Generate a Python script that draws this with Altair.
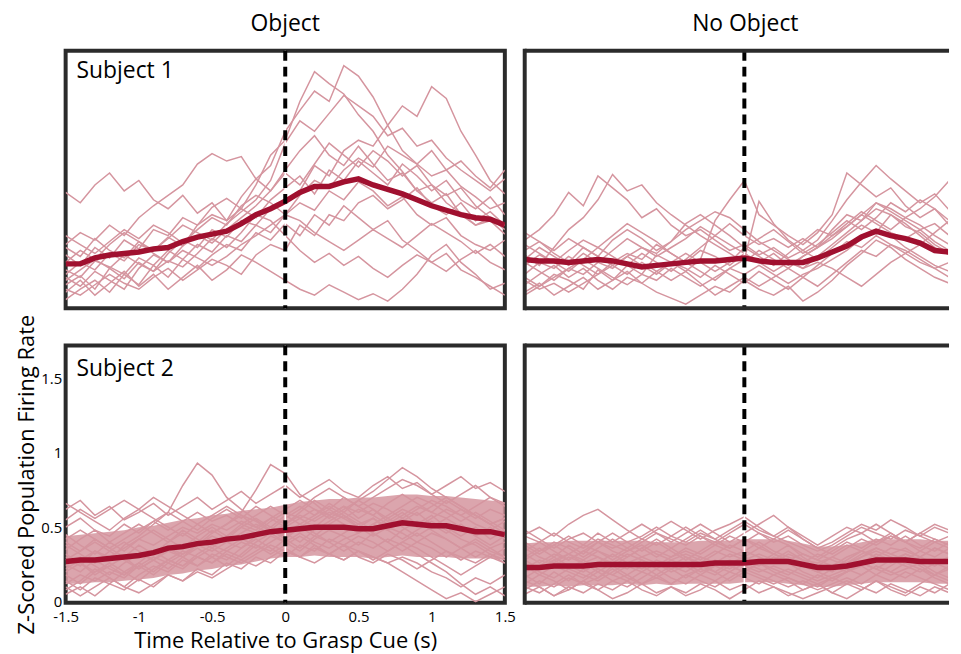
import altair as alt
import pandas as pd

# ---------------- data ----------------
TIME = [-1.5, -1.4, -1.3, -1.2, -1.1, -1.0, -0.9, -0.8, -0.7, -0.6, -0.5,
        -0.4, -0.3, -0.2, -0.1, 0.0, 0.1, 0.2, 0.3, 0.4, 0.5,
        0.6, 0.7, 0.8, 0.9, 1.0, 1.1, 1.2, 1.3, 1.4, 1.5]

COLUMNS = ["Object", "No Object"]
ROWS = ["Subject 1", "Subject 2"]
X_TICKS = [-1.5, -1, -0.5, 0, 0.5, 1, 1.5]
Y_TICKS = [0, 0.5, 1, 1.5]
CUE_TIME = [0]

# Subject 1, Object
S1_OBJ_MEAN = [0.29, 0.29, 0.33, 0.35, 0.36, 0.37, 0.39, 0.40, 0.44, 0.47, 0.49, 0.51, 0.56, 0.62, 0.66, 0.71,
               0.77, 0.81, 0.81, 0.84, 0.86, 0.82, 0.79, 0.76, 0.72, 0.68, 0.65, 0.62, 0.60, 0.59, 0.55]
S1_OBJ_TRIALS = [
    [0.22, 0.30, 0.25, 0.36, 0.31, 0.42, 0.38, 0.47, 0.41, 0.55, 0.62, 0.58, 0.74, 0.86, 0.95, 1.18, 1.32, 1.45, 1.38, 1.62, 1.55, 1.41, 1.22, 1.05, 0.96, 0.88, 0.92, 0.81, 0.74, 0.66, 0.70],
    [0.35, 0.28, 0.40, 0.33, 0.45, 0.39, 0.52, 0.48, 0.60, 0.55, 0.67, 0.73, 0.66, 0.82, 1.02, 1.12, 1.38, 1.58, 1.50, 1.43, 1.29, 1.18, 1.02, 0.91, 0.78, 0.82, 0.70, 0.63, 0.55, 0.58, 0.49],
    [0.15, 0.21, 0.12, 0.26, 0.19, 0.30, 0.24, 0.36, 0.45, 0.40, 0.52, 0.47, 0.58, 0.55, 0.66, 0.71, 0.78, 0.95, 0.88, 1.05, 1.12, 1.08, 1.22, 1.35, 1.28, 1.48, 1.40, 1.18, 1.02, 0.85, 0.76],
    [0.10, 0.18, 0.08, 0.16, 0.24, 0.14, 0.22, 0.12, 0.20, 0.28, 0.18, 0.25, 0.35, 0.30, 0.24, 0.18, 0.12, 0.08, 0.15, 0.10, 0.05, 0.09, 0.04, 0.12, 0.22, 0.35, 0.42, 0.30, 0.22, 0.12, 0.16],
    [0.77, 0.70, 0.82, 0.90, 0.78, 0.85, 0.72, 0.66, 0.75, 0.63, 0.70, 0.58, 0.66, 0.60, 0.72, 0.80, 0.88, 0.76, 0.92, 0.85, 0.98, 0.90, 0.82, 0.96, 0.88, 0.78, 0.85, 0.72, 0.66, 0.74, 0.62],
    [0.42, 0.50, 0.45, 0.55, 0.48, 0.60, 0.68, 0.75, 0.82, 0.96, 1.03, 0.98, 1.01, 0.86, 0.78, 0.92, 1.05, 1.15, 1.02, 0.95, 1.08, 0.96, 0.85, 0.90, 0.78, 0.70, 0.76, 0.62, 0.55, 0.60, 0.52],
    [0.25, 0.20, 0.31, 0.27, 0.22, 0.33, 0.28, 0.38, 0.32, 0.42, 0.37, 0.48, 0.44, 0.55, 0.50, 0.62, 0.70, 0.65, 0.78, 0.72, 0.84, 0.78, 0.68, 0.74, 0.62, 0.55, 0.60, 0.48, 0.42, 0.38, 0.45],
    [0.05, 0.12, 0.18, 0.10, 0.22, 0.15, 0.28, 0.20, 0.32, 0.26, 0.35, 0.42, 0.38, 0.50, 0.45, 0.56, 0.48, 0.62, 0.55, 0.68, 0.60, 0.52, 0.58, 0.45, 0.38, 0.30, 0.36, 0.25, 0.20, 0.14, 0.08],
    [0.40, 0.34, 0.46, 0.38, 0.33, 0.44, 0.36, 0.30, 0.41, 0.48, 0.43, 0.52, 0.60, 0.68, 0.78, 0.90, 0.82, 0.96, 1.10, 1.02, 0.94, 1.05, 0.98, 0.88, 0.95, 0.82, 0.75, 0.80, 0.68, 0.60, 0.55],
    [0.18, 0.25, 0.32, 0.26, 0.35, 0.29, 0.24, 0.31, 0.27, 0.36, 0.46, 0.40, 0.50, 0.62, 0.58, 0.48, 0.38, 0.30, 0.36, 0.28, 0.34, 0.26, 0.20, 0.28, 0.35, 0.30, 0.24, 0.32, 0.38, 0.30, 0.25],
    [0.30, 0.38, 0.32, 0.42, 0.50, 0.44, 0.38, 0.46, 0.55, 0.50, 0.45, 0.56, 0.64, 0.72, 0.85, 1.10, 1.25, 1.18, 1.30, 1.42, 1.35, 1.28, 1.15, 1.20, 1.08, 1.12, 1.00, 0.92, 0.85, 0.78, 0.86],
    [0.12, 0.08, 0.15, 0.22, 0.16, 0.12, 0.20, 0.26, 0.18, 0.25, 0.32, 0.28, 0.22, 0.35, 0.42, 0.38, 0.55, 0.48, 0.62, 0.58, 0.70, 0.75, 0.66, 0.72, 0.80, 0.68, 0.62, 0.70, 0.58, 0.64, 0.55],
    [0.48, 0.42, 0.36, 0.44, 0.52, 0.46, 0.55, 0.50, 0.43, 0.52, 0.60, 0.55, 0.68, 0.75, 0.70, 0.62, 0.75, 0.85, 0.80, 0.92, 1.00, 0.94, 1.08, 1.02, 0.96, 1.05, 0.92, 0.98, 0.88, 0.80, 0.92],
    [0.20, 0.14, 0.24, 0.18, 0.12, 0.26, 0.35, 0.30, 0.38, 0.33, 0.28, 0.34, 0.42, 0.48, 0.55, 0.62, 0.58, 0.50, 0.44, 0.38, 0.45, 0.52, 0.46, 0.40, 0.48, 0.56, 0.50, 0.44, 0.36, 0.42, 0.34],
]

# Subject 1, No Object
S1_NOOBJ_MEAN = [0.32, 0.31, 0.31, 0.30, 0.31, 0.32, 0.31, 0.29, 0.27, 0.28, 0.29, 0.30, 0.31, 0.31, 0.32, 0.33,
                 0.31, 0.30, 0.30, 0.30, 0.33, 0.37, 0.41, 0.47, 0.51, 0.48, 0.46, 0.43, 0.38, 0.37, 0.37]
S1_NOOBJ_TRIALS = [
    [0.45, 0.52, 0.62, 0.77, 0.68, 0.88, 0.80, 0.72, 0.60, 0.66, 0.55, 0.48, 0.52, 0.45, 0.38, 0.42, 0.35, 0.40, 0.33, 0.38, 0.45, 0.58, 0.72, 0.84, 0.95, 0.86, 0.78, 0.70, 0.76, 0.65, 0.58],
    [0.35, 0.28, 0.40, 0.52, 0.60, 0.72, 0.89, 0.78, 0.82, 0.70, 0.62, 0.55, 0.48, 0.42, 0.36, 0.30, 0.38, 0.32, 0.26, 0.34, 0.40, 0.52, 0.62, 0.58, 0.70, 0.66, 0.60, 0.55, 0.48, 0.42, 0.45],
    [0.20, 0.14, 0.22, 0.18, 0.12, 0.25, 0.18, 0.28, 0.22, 0.35, 0.30, 0.24, 0.32, 0.58, 0.72, 0.85, 0.62, 0.55, 0.48, 0.42, 0.50, 0.62, 0.90, 0.82, 0.74, 0.80, 0.68, 0.60, 0.66, 0.55, 0.48],
    [0.28, 0.35, 0.30, 0.24, 0.32, 0.26, 0.20, 0.15, 0.22, 0.18, 0.26, 0.20, 0.14, 0.20, 0.26, 0.32, 0.71, 0.56, 0.45, 0.38, 0.32, 0.40, 0.48, 0.55, 0.50, 0.62, 0.56, 0.48, 0.40, 0.35, 0.30],
    [0.10, 0.16, 0.08, 0.14, 0.20, 0.12, 0.18, 0.24, 0.16, 0.10, 0.06, 0.02, 0.08, 0.14, 0.10, 0.18, 0.12, 0.08, 0.14, 0.04, 0.10, 0.18, 0.28, 0.36, 0.45, 0.40, 0.32, 0.26, 0.20, 0.16, 0.22],
    [0.38, 0.44, 0.36, 0.30, 0.40, 0.34, 0.45, 0.52, 0.46, 0.38, 0.44, 0.56, 0.62, 0.55, 0.48, 0.40, 0.34, 0.28, 0.36, 0.44, 0.52, 0.48, 0.56, 0.64, 0.58, 0.52, 0.60, 0.66, 0.74, 0.85, 0.78],
    [0.22, 0.30, 0.26, 0.34, 0.28, 0.22, 0.30, 0.36, 0.32, 0.42, 0.36, 0.30, 0.38, 0.34, 0.28, 0.36, 0.30, 0.24, 0.30, 0.26, 0.34, 0.42, 0.50, 0.58, 0.66, 0.62, 0.54, 0.50, 0.42, 0.36, 0.40],
    [0.15, 0.22, 0.28, 0.20, 0.26, 0.18, 0.12, 0.20, 0.16, 0.24, 0.30, 0.26, 0.20, 0.28, 0.22, 0.16, 0.24, 0.18, 0.12, 0.20, 0.28, 0.36, 0.44, 0.40, 0.48, 0.42, 0.36, 0.30, 0.26, 0.20, 0.18],
    [0.42, 0.36, 0.30, 0.38, 0.45, 0.40, 0.34, 0.28, 0.36, 0.30, 0.24, 0.32, 0.40, 0.48, 0.42, 0.36, 0.30, 0.36, 0.28, 0.34, 0.40, 0.46, 0.54, 0.62, 0.56, 0.50, 0.46, 0.52, 0.44, 0.38, 0.32],
    [0.08, 0.14, 0.20, 0.26, 0.32, 0.40, 0.48, 0.56, 0.50, 0.44, 0.36, 0.30, 0.24, 0.18, 0.26, 0.22, 0.28, 0.22, 0.16, 0.22, 0.26, 0.32, 0.38, 0.46, 0.52, 0.48, 0.40, 0.34, 0.28, 0.24, 0.18],
    [0.30, 0.24, 0.18, 0.26, 0.22, 0.30, 0.26, 0.34, 0.40, 0.36, 0.44, 0.52, 0.58, 0.64, 0.60, 0.52, 0.44, 0.38, 0.32, 0.26, 0.30, 0.26, 0.20, 0.14, 0.22, 0.30, 0.36, 0.42, 0.50, 0.58, 0.52],
    [0.50, 0.44, 0.38, 0.46, 0.40, 0.34, 0.28, 0.34, 0.28, 0.22, 0.30, 0.36, 0.30, 0.24, 0.30, 0.40, 0.46, 0.52, 0.44, 0.36, 0.42, 0.50, 0.58, 0.52, 0.60, 0.70, 0.64, 0.72, 0.66, 0.58, 0.62],
    [0.18, 0.12, 0.16, 0.10, 0.16, 0.22, 0.28, 0.22, 0.30, 0.24, 0.18, 0.24, 0.16, 0.08, 0.14, 0.20, 0.14, 0.20, 0.26, 0.20, 0.14, 0.22, 0.30, 0.38, 0.34, 0.42, 0.38, 0.32, 0.26, 0.30, 0.24],
    [0.32, 0.40, 0.34, 0.28, 0.36, 0.30, 0.38, 0.46, 0.40, 0.34, 0.40, 0.46, 0.54, 0.48, 0.56, 0.48, 0.42, 0.46, 0.40, 0.46, 0.40, 0.48, 0.54, 0.62, 0.70, 0.64, 0.58, 0.52, 0.56, 0.48, 0.44],
]

# Subject 2, Object
S2_OBJ_MEAN = [0.27, 0.28, 0.28, 0.29, 0.30, 0.31, 0.33, 0.36, 0.37, 0.39, 0.40, 0.42, 0.43, 0.45, 0.47, 0.48,
               0.49, 0.50, 0.50, 0.50, 0.49, 0.49, 0.51, 0.53, 0.52, 0.51, 0.51, 0.49, 0.47, 0.47, 0.45]
# dense core of the overlapping trials
S2_OBJ_CORE_LO = [0.12, 0.12, 0.13, 0.13, 0.14, 0.15, 0.16, 0.18, 0.19, 0.21, 0.22, 0.24, 0.25, 0.27, 0.29, 0.30,
                  0.30, 0.31, 0.30, 0.30, 0.30, 0.29, 0.30, 0.31, 0.30, 0.30, 0.30, 0.29, 0.29, 0.29, 0.28]
S2_OBJ_CORE_HI = [0.44, 0.45, 0.46, 0.47, 0.48, 0.50, 0.51, 0.53, 0.55, 0.56, 0.58, 0.59, 0.61, 0.62, 0.63, 0.65,
                  0.67, 0.68, 0.69, 0.69, 0.70, 0.70, 0.71, 0.72, 0.72, 0.71, 0.71, 0.70, 0.69, 0.68, 0.67]
S2_OBJ_TRIALS = [
    [0.62, 0.68, 0.58, 0.64, 0.55, 0.60, 0.66, 0.58, 0.64, 0.70, 0.62, 0.68, 0.74, 0.66, 0.72, 0.78, 0.70, 0.76, 0.82, 0.74, 0.70, 0.78, 0.84, 0.76, 0.80, 0.72, 0.78, 0.84, 0.76, 0.80, 0.74],
    [0.05, 0.10, 0.04, 0.12, 0.08, 0.15, 0.10, 0.18, 0.14, 0.22, 0.18, 0.26, 0.22, 0.30, 0.26, 0.34, 0.30, 0.38, 0.32, 0.28, 0.34, 0.30, 0.26, 0.20, 0.14, 0.08, 0.02, 0.06, 0.00, 0.05, 0.10],
    [0.30, 0.24, 0.34, 0.28, 0.38, 0.44, 0.52, 0.60, 0.78, 0.93, 0.85, 0.70, 0.62, 0.55, 0.48, 0.42, 0.50, 0.44, 0.52, 0.58, 0.50, 0.56, 0.48, 0.54, 0.60, 0.52, 0.46, 0.52, 0.44, 0.50, 0.42],
    [0.20, 0.26, 0.18, 0.24, 0.30, 0.22, 0.28, 0.36, 0.30, 0.38, 0.46, 0.52, 0.60, 0.75, 0.92, 0.86, 0.72, 0.66, 0.58, 0.64, 0.56, 0.62, 0.54, 0.60, 0.52, 0.58, 0.50, 0.44, 0.50, 0.42, 0.48],
    [0.40, 0.34, 0.42, 0.36, 0.30, 0.38, 0.32, 0.40, 0.46, 0.40, 0.48, 0.42, 0.50, 0.56, 0.50, 0.58, 0.64, 0.58, 0.66, 0.60, 0.68, 0.74, 0.82, 0.90, 0.84, 0.76, 0.70, 0.64, 0.58, 0.52, 0.56],
    [0.12, 0.18, 0.14, 0.20, 0.16, 0.24, 0.18, 0.26, 0.22, 0.30, 0.26, 0.34, 0.30, 0.38, 0.34, 0.42, 0.36, 0.44, 0.40, 0.34, 0.40, 0.36, 0.42, 0.38, 0.32, 0.26, 0.20, 0.12, 0.05, 0.10, 0.04],
    [0.50, 0.56, 0.48, 0.44, 0.52, 0.46, 0.54, 0.60, 0.54, 0.48, 0.56, 0.62, 0.56, 0.64, 0.58, 0.52, 0.60, 0.68, 0.62, 0.70, 0.64, 0.58, 0.66, 0.72, 0.66, 0.60, 0.68, 0.62, 0.56, 0.62, 0.58],
    [0.25, 0.20, 0.28, 0.22, 0.18, 0.26, 0.34, 0.28, 0.24, 0.32, 0.38, 0.34, 0.40, 0.36, 0.44, 0.40, 0.34, 0.42, 0.48, 0.44, 0.38, 0.46, 0.40, 0.48, 0.54, 0.48, 0.42, 0.36, 0.40, 0.34, 0.30],
    [0.35, 0.42, 0.48, 0.40, 0.46, 0.52, 0.46, 0.40, 0.48, 0.42, 0.36, 0.44, 0.50, 0.46, 0.54, 0.60, 0.56, 0.50, 0.58, 0.52, 0.46, 0.52, 0.58, 0.64, 0.70, 0.66, 0.60, 0.54, 0.60, 0.54, 0.48],
    [0.08, 0.14, 0.22, 0.16, 0.10, 0.18, 0.24, 0.20, 0.28, 0.24, 0.32, 0.28, 0.36, 0.42, 0.36, 0.30, 0.38, 0.34, 0.42, 0.38, 0.44, 0.40, 0.34, 0.40, 0.46, 0.40, 0.34, 0.28, 0.34, 0.30, 0.36],
    [0.45, 0.38, 0.32, 0.40, 0.34, 0.42, 0.48, 0.42, 0.36, 0.44, 0.50, 0.44, 0.52, 0.48, 0.56, 0.62, 0.68, 0.62, 0.56, 0.62, 0.68, 0.62, 0.56, 0.62, 0.58, 0.64, 0.70, 0.64, 0.58, 0.52, 0.46],
    [0.18, 0.12, 0.20, 0.26, 0.20, 0.14, 0.22, 0.28, 0.34, 0.30, 0.26, 0.32, 0.28, 0.34, 0.40, 0.46, 0.52, 0.46, 0.40, 0.46, 0.52, 0.46, 0.40, 0.34, 0.40, 0.36, 0.30, 0.36, 0.42, 0.36, 0.30],
    [0.66, 0.60, 0.54, 0.48, 0.56, 0.62, 0.56, 0.50, 0.44, 0.52, 0.46, 0.52, 0.58, 0.54, 0.48, 0.56, 0.62, 0.70, 0.76, 0.70, 0.64, 0.70, 0.76, 0.82, 0.78, 0.72, 0.66, 0.72, 0.78, 0.70, 0.64],
    [0.28, 0.34, 0.40, 0.34, 0.28, 0.22, 0.28, 0.34, 0.30, 0.24, 0.30, 0.36, 0.42, 0.38, 0.32, 0.38, 0.44, 0.38, 0.32, 0.38, 0.34, 0.28, 0.34, 0.40, 0.36, 0.30, 0.24, 0.18, 0.24, 0.30, 0.26],
    [0.22, 0.28, 0.34, 0.30, 0.36, 0.42, 0.38, 0.44, 0.50, 0.46, 0.52, 0.48, 0.54, 0.50, 0.46, 0.52, 0.58, 0.54, 0.60, 0.56, 0.62, 0.58, 0.52, 0.58, 0.64, 0.60, 0.56, 0.62, 0.58, 0.52, 0.56],
    [0.38, 0.32, 0.26, 0.34, 0.40, 0.34, 0.28, 0.36, 0.32, 0.38, 0.34, 0.40, 0.36, 0.44, 0.50, 0.46, 0.40, 0.48, 0.54, 0.60, 0.54, 0.48, 0.56, 0.50, 0.44, 0.50, 0.56, 0.50, 0.44, 0.38, 0.44],
    [0.14, 0.08, 0.16, 0.12, 0.20, 0.26, 0.20, 0.28, 0.24, 0.30, 0.36, 0.30, 0.26, 0.32, 0.38, 0.34, 0.30, 0.36, 0.32, 0.38, 0.30, 0.26, 0.32, 0.28, 0.22, 0.28, 0.34, 0.30, 0.26, 0.32, 0.28],
    [0.55, 0.62, 0.56, 0.62, 0.68, 0.62, 0.70, 0.64, 0.58, 0.52, 0.58, 0.64, 0.58, 0.50, 0.56, 0.50, 0.56, 0.62, 0.58, 0.64, 0.60, 0.66, 0.62, 0.56, 0.62, 0.68, 0.64, 0.58, 0.64, 0.70, 0.66],
    [0.32, 0.26, 0.20, 0.24, 0.18, 0.24, 0.30, 0.26, 0.32, 0.38, 0.44, 0.40, 0.46, 0.52, 0.48, 0.44, 0.50, 0.56, 0.62, 0.56, 0.50, 0.44, 0.50, 0.46, 0.40, 0.46, 0.42, 0.36, 0.30, 0.36, 0.40],
    [0.42, 0.48, 0.42, 0.36, 0.42, 0.48, 0.54, 0.48, 0.54, 0.60, 0.54, 0.58, 0.52, 0.58, 0.64, 0.58, 0.52, 0.58, 0.64, 0.58, 0.52, 0.56, 0.50, 0.56, 0.50, 0.56, 0.62, 0.58, 0.52, 0.48, 0.54],
    [0.24, 0.30, 0.24, 0.18, 0.26, 0.32, 0.28, 0.22, 0.30, 0.36, 0.30, 0.24, 0.32, 0.40, 0.46, 0.40, 0.46, 0.40, 0.36, 0.42, 0.46, 0.52, 0.48, 0.42, 0.48, 0.54, 0.48, 0.42, 0.38, 0.32, 0.26],
    [0.10, 0.04, 0.10, 0.16, 0.10, 0.06, 0.12, 0.18, 0.14, 0.20, 0.16, 0.22, 0.28, 0.24, 0.30, 0.36, 0.30, 0.26, 0.32, 0.28, 0.34, 0.30, 0.26, 0.30, 0.26, 0.20, 0.16, 0.10, 0.16, 0.12, 0.18],
]

# Subject 2, No Object
S2_NOOBJ_MEAN = [0.23, 0.23, 0.24, 0.24, 0.24, 0.25, 0.25, 0.25, 0.25, 0.25, 0.25, 0.25, 0.25, 0.26, 0.26, 0.26,
                 0.27, 0.27, 0.27, 0.25, 0.23, 0.23, 0.24, 0.26, 0.28, 0.28, 0.28, 0.27, 0.27, 0.27, 0.27]
S2_NOOBJ_CORE_LO = [0.10, 0.10, 0.11, 0.10, 0.11, 0.11, 0.11, 0.12, 0.11, 0.12, 0.11, 0.12, 0.12, 0.12, 0.12, 0.13,
                    0.13, 0.13, 0.12, 0.11, 0.10, 0.10, 0.11, 0.12, 0.13, 0.13, 0.13, 0.13, 0.12, 0.12, 0.12]
S2_NOOBJ_CORE_HI = [0.39, 0.40, 0.40, 0.41, 0.41, 0.41, 0.41, 0.41, 0.41, 0.40, 0.40, 0.40, 0.41, 0.41, 0.41, 0.42,
                    0.42, 0.42, 0.41, 0.39, 0.37, 0.37, 0.38, 0.40, 0.42, 0.42, 0.42, 0.42, 0.41, 0.41, 0.41]
S2_NOOBJ_TRIALS = [
    [0.45, 0.50, 0.44, 0.52, 0.58, 0.62, 0.55, 0.48, 0.42, 0.48, 0.54, 0.48, 0.42, 0.48, 0.52, 0.57, 0.50, 0.44, 0.50, 0.42, 0.36, 0.40, 0.46, 0.52, 0.48, 0.55, 0.50, 0.44, 0.50, 0.46, 0.52],
    [0.05, 0.10, 0.04, 0.08, 0.14, 0.08, 0.02, 0.06, 0.12, 0.06, 0.10, 0.04, 0.08, 0.14, 0.08, 0.12, 0.06, 0.10, 0.04, 0.08, 0.12, 0.06, 0.02, 0.08, 0.14, 0.08, 0.04, 0.10, 0.06, 0.12, 0.08],
    [0.30, 0.36, 0.30, 0.38, 0.32, 0.40, 0.46, 0.40, 0.34, 0.40, 0.34, 0.28, 0.34, 0.40, 0.36, 0.42, 0.38, 0.32, 0.38, 0.30, 0.24, 0.30, 0.36, 0.42, 0.38, 0.44, 0.40, 0.34, 0.40, 0.36, 0.42],
    [0.18, 0.12, 0.20, 0.14, 0.22, 0.16, 0.24, 0.18, 0.12, 0.18, 0.24, 0.20, 0.26, 0.20, 0.14, 0.20, 0.26, 0.20, 0.16, 0.12, 0.18, 0.14, 0.20, 0.24, 0.18, 0.24, 0.30, 0.24, 0.18, 0.22, 0.16],
    [0.38, 0.32, 0.38, 0.44, 0.38, 0.46, 0.40, 0.46, 0.52, 0.46, 0.40, 0.46, 0.52, 0.46, 0.40, 0.46, 0.52, 0.58, 0.50, 0.44, 0.38, 0.44, 0.50, 0.46, 0.52, 0.46, 0.40, 0.46, 0.52, 0.48, 0.44],
    [0.22, 0.28, 0.24, 0.30, 0.26, 0.20, 0.26, 0.32, 0.28, 0.22, 0.28, 0.24, 0.30, 0.26, 0.32, 0.28, 0.24, 0.30, 0.26, 0.20, 0.16, 0.22, 0.28, 0.34, 0.30, 0.26, 0.32, 0.28, 0.24, 0.30, 0.26],
    [0.12, 0.18, 0.14, 0.08, 0.14, 0.20, 0.14, 0.10, 0.16, 0.22, 0.16, 0.12, 0.18, 0.14, 0.20, 0.16, 0.12, 0.18, 0.14, 0.08, 0.12, 0.06, 0.12, 0.18, 0.24, 0.20, 0.16, 0.22, 0.16, 0.12, 0.18],
    [0.32, 0.26, 0.32, 0.28, 0.34, 0.30, 0.24, 0.30, 0.36, 0.42, 0.36, 0.30, 0.26, 0.32, 0.38, 0.34, 0.40, 0.34, 0.30, 0.26, 0.32, 0.28, 0.24, 0.30, 0.36, 0.32, 0.28, 0.34, 0.30, 0.36, 0.32],
    [0.26, 0.20, 0.16, 0.22, 0.28, 0.22, 0.18, 0.24, 0.20, 0.26, 0.22, 0.16, 0.22, 0.28, 0.24, 0.20, 0.26, 0.22, 0.18, 0.24, 0.20, 0.16, 0.20, 0.26, 0.32, 0.28, 0.24, 0.20, 0.26, 0.22, 0.28],
    [0.40, 0.34, 0.40, 0.36, 0.30, 0.36, 0.42, 0.36, 0.42, 0.38, 0.44, 0.50, 0.44, 0.38, 0.44, 0.40, 0.46, 0.42, 0.48, 0.42, 0.36, 0.32, 0.38, 0.34, 0.40, 0.46, 0.40, 0.36, 0.42, 0.38, 0.34],
    [0.08, 0.14, 0.10, 0.16, 0.12, 0.08, 0.14, 0.18, 0.24, 0.18, 0.12, 0.18, 0.14, 0.10, 0.16, 0.22, 0.18, 0.14, 0.10, 0.14, 0.10, 0.16, 0.12, 0.08, 0.14, 0.10, 0.06, 0.12, 0.18, 0.14, 0.10],
    [0.34, 0.40, 0.34, 0.28, 0.34, 0.40, 0.34, 0.30, 0.36, 0.30, 0.36, 0.42, 0.48, 0.42, 0.36, 0.42, 0.36, 0.42, 0.38, 0.32, 0.28, 0.34, 0.40, 0.36, 0.42, 0.38, 0.44, 0.38, 0.34, 0.40, 0.36],
    [0.20, 0.24, 0.30, 0.24, 0.20, 0.26, 0.32, 0.26, 0.22, 0.28, 0.24, 0.30, 0.24, 0.20, 0.26, 0.30, 0.26, 0.32, 0.28, 0.24, 0.20, 0.24, 0.20, 0.26, 0.22, 0.28, 0.32, 0.28, 0.24, 0.30, 0.26],
    [0.14, 0.10, 0.04, 0.10, 0.06, 0.12, 0.08, 0.14, 0.08, 0.04, 0.10, 0.06, 0.12, 0.08, 0.02, 0.08, 0.14, 0.10, 0.06, 0.02, 0.06, 0.10, 0.14, 0.10, 0.06, 0.12, 0.08, 0.04, 0.10, 0.06, 0.02],
    [0.28, 0.34, 0.38, 0.32, 0.38, 0.34, 0.30, 0.36, 0.30, 0.34, 0.30, 0.36, 0.32, 0.38, 0.34, 0.30, 0.36, 0.32, 0.28, 0.32, 0.28, 0.24, 0.30, 0.34, 0.30, 0.36, 0.34, 0.30, 0.36, 0.32, 0.38],
    [0.24, 0.18, 0.24, 0.20, 0.16, 0.22, 0.18, 0.14, 0.20, 0.16, 0.22, 0.26, 0.20, 0.24, 0.20, 0.26, 0.22, 0.18, 0.22, 0.18, 0.14, 0.18, 0.22, 0.18, 0.24, 0.20, 0.26, 0.22, 0.18, 0.24, 0.20],
    [0.44, 0.40, 0.46, 0.40, 0.36, 0.42, 0.38, 0.34, 0.40, 0.46, 0.42, 0.38, 0.44, 0.40, 0.46, 0.52, 0.46, 0.40, 0.44, 0.38, 0.34, 0.38, 0.44, 0.50, 0.46, 0.42, 0.48, 0.44, 0.40, 0.44, 0.48],
    [0.16, 0.22, 0.28, 0.22, 0.18, 0.14, 0.20, 0.26, 0.30, 0.26, 0.20, 0.24, 0.18, 0.24, 0.28, 0.24, 0.20, 0.24, 0.20, 0.16, 0.12, 0.16, 0.20, 0.26, 0.22, 0.18, 0.22, 0.26, 0.20, 0.16, 0.22],
    [0.36, 0.30, 0.26, 0.32, 0.28, 0.34, 0.28, 0.34, 0.38, 0.32, 0.28, 0.32, 0.28, 0.34, 0.30, 0.34, 0.30, 0.26, 0.32, 0.28, 0.26, 0.30, 0.26, 0.32, 0.36, 0.32, 0.36, 0.30, 0.36, 0.32, 0.28],
    [0.10, 0.06, 0.12, 0.18, 0.12, 0.16, 0.22, 0.16, 0.12, 0.16, 0.12, 0.18, 0.22, 0.18, 0.24, 0.20, 0.16, 0.12, 0.16, 0.12, 0.08, 0.12, 0.16, 0.12, 0.18, 0.14, 0.20, 0.16, 0.12, 0.08, 0.12],
    [0.28, 0.22, 0.28, 0.32, 0.26, 0.30, 0.26, 0.22, 0.28, 0.24, 0.30, 0.34, 0.30, 0.26, 0.22, 0.28, 0.32, 0.28, 0.34, 0.28, 0.24, 0.20, 0.26, 0.30, 0.34, 0.30, 0.26, 0.30, 0.26, 0.30, 0.34],
    [0.48, 0.42, 0.36, 0.42, 0.46, 0.40, 0.36, 0.40, 0.44, 0.50, 0.44, 0.40, 0.46, 0.42, 0.48, 0.54, 0.48, 0.44, 0.40, 0.36, 0.30, 0.36, 0.42, 0.46, 0.40, 0.44, 0.40, 0.46, 0.42, 0.38, 0.44],
]

# ---------------- style ----------------
FONT = "Open Sans"
PINK = "#d5959f"
DARK = "#a0102f"
FRAME = "#2b2b2b"
W_LEFT = 442
W_RIGHT = 426
H = 259
Y_DOMAIN = [-0.007, 1.72]
X_DOMAIN_LEFT = [-1.5, 1.5]
X_DOMAIN_RIGHT = [-1.5, 1.391]   # right column is cut off by the figure edge
X_TITLE = "Time Relative to Grasp Cue (s)"
Y_TITLE = "Z-Scored Population Firing Rate"


def long_df(traces):
    rows = []
    for k, tr in enumerate(traces):
        for t, v in zip(TIME, tr):
            rows.append({"t": t, "v": v, "trial": k})
    return pd.DataFrame(rows)


def panel(traces, mean, label, label_y, width, xdom, show_axes, col_title, title_x, right, core=None):
    xs = alt.Scale(domain=xdom, nice=False, zero=False)
    ys = alt.Scale(domain=Y_DOMAIN, nice=False, zero=False)
    if show_axes:
        x_axis = alt.Axis(values=X_TICKS, labelExpr="datum.value + ''", ticks=False, domain=False,
                          grid=False, labelFontSize=15, labelColor="black", labelPadding=7,
                          labelFlush=False, labelOverlap=False,
                          titleFontSize=22, titleFontWeight="normal", titleColor="black", titlePadding=6)
        y_axis = alt.Axis(values=Y_TICKS, labelExpr="datum.value + ''", ticks=False, domain=False,
                          grid=False, labelFontSize=15, labelColor="black", labelPadding=4,
                          labelFlush=False, labelOverlap=False,
                          titleFontSize=22, titleFontWeight="normal", titleColor="black", titlePadding=2)
        x_enc = alt.X("t:Q", scale=xs, axis=x_axis, title=X_TITLE)
        y_enc = alt.Y("v:Q", scale=ys, axis=y_axis, title=Y_TITLE)
        y_lo = alt.Y("lo:Q", scale=ys, axis=y_axis, title=Y_TITLE)
    else:
        x_enc = alt.X("t:Q", scale=xs, axis=None)
        y_enc = alt.Y("v:Q", scale=ys, axis=None)
        y_lo = alt.Y("lo:Q", scale=ys, axis=None)

    layers = []
    if core is not None:
        core_df = pd.DataFrame({"t": TIME, "lo": core[0], "hi": core[1]})
        layers.append(alt.Chart(core_df).mark_area(color=PINK, opacity=0.85, clip=True).encode(
            x=x_enc, y=y_lo, y2="hi:Q"))

    layers.append(alt.Chart(long_df(traces)).mark_line(color=PINK, strokeWidth=1.5, clip=True).encode(
        x=x_enc, y=y_enc, detail="trial:N"))

    cue_df = pd.DataFrame({"t": CUE_TIME})
    layers.append(alt.Chart(cue_df).mark_rule(color="white", strokeWidth=1.5).encode(x=x_enc))
    mean_df = pd.DataFrame({"t": TIME, "v": mean})
    layers.append(alt.Chart(mean_df).mark_line(color=DARK, strokeWidth=5.5, clip=True).encode(x=x_enc, y=y_enc))
    layers.append(alt.Chart(cue_df).mark_rule(color="black", strokeWidth=4, strokeDash=[10, 6]).encode(x=x_enc))

    one = pd.DataFrame({"z": [0]})
    if label:
        layers.append(alt.Chart(one).mark_text(text=label, align="left", baseline="top", fontSize=23,
                                               color="black").encode(x=alt.value(11), y=alt.value(label_y)))
    if col_title:
        layers.append(alt.Chart(one).mark_text(text=col_title, align="center", baseline="middle", fontSize=23,
                                               color="black").encode(x=alt.value(title_x), y=alt.value(-27)))
    if right:
        layers += [
            alt.Chart(one).mark_rule(color=FRAME, strokeWidth=4).encode(
                x=alt.value(0), y=alt.value(-2), y2=alt.value(H + 2)),
            alt.Chart(one).mark_rule(color=FRAME, strokeWidth=4).encode(
                x=alt.value(0), x2=alt.value(width + 1), y=alt.value(0)),
            alt.Chart(one).mark_rule(color=FRAME, strokeWidth=4).encode(
                x=alt.value(0), x2=alt.value(width + 1), y=alt.value(H)),
        ]
    ch = alt.layer(*layers).properties(width=width, height=H)
    if right:
        ch = ch.properties(view=alt.ViewBackground(stroke="transparent"))
    return ch


tl = panel(S1_OBJ_TRIALS, S1_OBJ_MEAN, ROWS[0], 9, W_LEFT, X_DOMAIN_LEFT, False, COLUMNS[0], 221, False)
tr = panel(S1_NOOBJ_TRIALS, S1_NOOBJ_MEAN, "", 0, W_RIGHT, X_DOMAIN_RIGHT, False, COLUMNS[1], 222, True)
bl = panel(S2_OBJ_TRIALS, S2_OBJ_MEAN, ROWS[1], 13, W_LEFT, X_DOMAIN_LEFT, True, None, 0, False,
           core=(S2_OBJ_CORE_LO, S2_OBJ_CORE_HI))
br = panel(S2_NOOBJ_TRIALS, S2_NOOBJ_MEAN, "", 0, W_RIGHT, X_DOMAIN_RIGHT, False, None, 0, True,
           core=(S2_NOOBJ_CORE_LO, S2_NOOBJ_CORE_HI))

chart = alt.concat(tl, tr, bl, br, columns=2, spacing={"row": -2.5, "column": 3}, align="each").properties(
    padding={"left": 5, "top": 1, "right": 0, "bottom": 0}
).configure(font=FONT).configure_view(stroke=FRAME, strokeWidth=4)

chart.save("out.html", embed_options={"renderer": "svg", "actions": False})
